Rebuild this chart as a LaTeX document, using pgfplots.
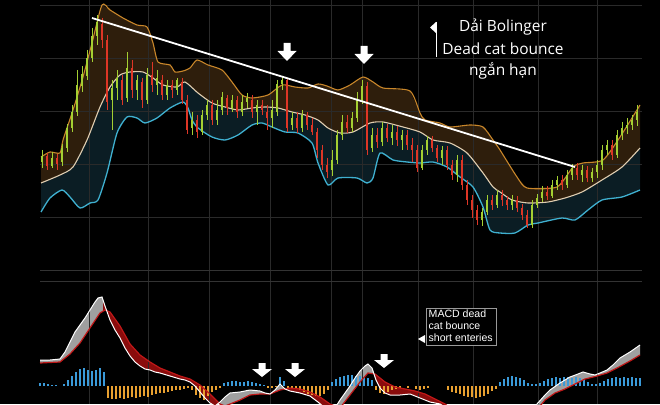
\documentclass[border=0pt]{standalone}
\usepackage{pgfplots}
\pgfplotsset{compat=1.18}
\usepackage{pgfplotstable}
\usepgfplotslibrary{fillbetween}
\usepackage{fontspec}
\setmainfont{Open Sans}
\newfontfamily\arialfont{Liberation Sans}
\definecolor{upband}{HTML}{C8862A}
\definecolor{midband}{HTML}{E0CDB0}
\definecolor{lowband}{HTML}{3FB0D0}
\definecolor{upfill}{HTML}{2E1E0C}
\definecolor{lowfill}{HTML}{0B1D24}
\definecolor{cgreen}{HTML}{A4CF32}
\definecolor{cred}{HTML}{DE3626}
\definecolor{hblue}{HTML}{3A9AD9}
\definecolor{horange}{HTML}{E8A030}
\definecolor{gridc}{HTML}{2A2A2A}
\definecolor{sigred}{HTML}{C01818}
\definecolor{fillred}{HTML}{8A0C0C}

\pgfplotstableread{
x y
41 157
50 152
60 153
63 140
73 110
83 77
92 43
102 5
110 10
123 18
137 25
147 27
153 43
158 62
170 65
175 72
183 71
190 68
197 60
208 65
222 70
232 82
242 95
252 98
268 95
282 85
295 87
308 88
318 84
327 86
338 90
350 85
363 77
373 82
383 88
410 91
420 113
425 120
440 123
450 127
470 125
483 127
493 140
500 150
517 177
527 188
557 187
573 167
583 163
603 160
620 137
640 105
}\bandup

\pgfplotstableread{
x y
41 183
60 175
73 167
87 140
100 107
110 87
120 75
130 72
143 72
153 78
163 85
177 87
185 82
198 93
212 103
225 107
238 110
252 108
265 107
278 108
292 112
305 115
318 120
328 128
340 133
353 132
370 123
383 122
403 127
420 132
433 140
450 143
467 153
483 173
493 187
500 192
512 200
528 203
548 202
565 198
582 192
602 180
622 167
640 148
}\bandmid

\pgfplotstableread{
x y
41 212
50 198
62 190
70 197
80 208
90 203
98 200
107 173
117 133
127 117
137 118
145 123
157 118
170 108
183 102
188 108
192 120
198 128
212 137
225 140
238 135
252 125
262 123
272 127
285 132
298 133
312 143
318 163
328 185
338 178
357 178
367 183
373 178
380 153
393 160
407 162
420 163
433 162
447 167
460 177
473 187
483 207
490 230
500 233
515 233
528 225
538 223
562 218
575 220
588 210
602 200
622 197
640 190
}\bandlow

\pgfplotstableread{
x o c h l
42 162 156 150 168
52 166 158 152 168
62 162 148 144 166
67 148 128 124 152
72 128 112 105 132
77 112 85 70 116
82 86 74 66 92
87 76 58 50 80
92 58 36 28 62
97 36 22 15 45
112 100 88 80 130
117 88 78 70 100
127 98 68 52 102
137 90 80 75 100
147 100 75 68 104
157 85 78 70 95
167 95 85 80 100
177 90 80 78 95
192 128 120 112 135
202 132 115 110 135
207 115 105 100 120
217 120 110 100 125
222 110 97 92 115
232 108 100 95 112
242 112 102 95 116
247 102 98 93 108
257 112 105 100 125
272 118 110 100 128
277 112 84 80 116
282 84 80 76 90
292 125 118 112 130
302 128 115 110 132
332 170 160 150 176
337 160 135 130 164
342 135 122 115 140
352 128 118 112 132
357 118 100 92 122
362 100 86 80 104
372 148 135 128 152
382 142 128 122 146
392 138 132 125 145
402 140 135 130 150
422 168 150 145 170
427 150 140 136 155
442 158 150 146 165
457 175 160 155 182
482 220 212 208 226
487 212 200 195 215
497 205 195 190 208
512 205 200 195 210
532 225 205 200 228
537 205 198 194 208
542 198 192 186 202
552 196 185 180 198
557 185 180 176 190
567 185 175 170 188
572 175 168 164 180
582 175 170 165 182
592 178 172 168 182
597 172 165 160 178
602 165 150 145 170
607 150 145 140 155
617 155 135 130 158
622 135 128 122 140
627 128 125 118 134
632 125 120 115 130
637 120 112 105 126
}\gtab

\pgfplotstableread{
x o c h l
47 156 166 153 170
57 158 164 154 170
102 24 40 18 48
107 40 102 35 110
122 80 100 75 105
132 68 90 60 98
142 82 100 78 108
152 75 85 62 92
162 80 95 75 100
172 85 90 80 98
182 82 100 78 104
187 100 130 95 134
197 120 132 115 138
212 105 120 100 125
227 98 108 95 115
237 100 112 96 118
252 100 112 95 118
262 105 110 100 115
267 112 118 105 130
287 80 128 78 132
297 118 128 112 133
307 115 125 112 130
312 125 132 118 135
317 132 150 128 158
322 150 165 145 170
327 165 172 158 178
347 122 128 115 133
367 86 150 82 155
377 135 142 128 148
387 128 138 124 142
397 132 140 126 146
407 135 145 130 150
412 145 150 138 162
417 150 168 145 172
432 140 148 136 152
437 148 158 145 162
447 150 165 146 170
452 165 175 160 180
462 160 185 155 190
467 185 200 180 205
472 200 210 195 218
477 210 220 205 225
492 200 205 195 210
502 195 200 190 206
507 200 205 196 210
517 200 208 196 212
522 208 215 204 220
527 215 225 210 228
547 192 196 186 200
562 180 185 175 190
577 168 175 163 180
587 170 178 166 182
612 145 155 140 160
}\rtab

\pgfplotstableread{
x v
40 383
44 383
48 384
52 385
56 385
64 384
68 380
72 376
76 372
80 369
84 368
88 370
92 371
96 370
100 368
104 372
224 383
228 382
232 381
236 381
240 382
244 382
248 381
252 382
256 383
260 384
264 385
280 377
284 381
332 382
336 379
340 377
344 376
348 375
352 375
356 376
360 376
364 377
368 378
372 380
500 382
504 379
508 377
512 376
516 377
520 378
524 380
528 383
532 384
536 384
540 383
544 381
548 379
552 378
556 377
560 378
564 377
568 377
572 378
576 377
580 378
584 380
588 382
592 384
596 384
600 383
604 381
608 379
612 378
616 377
620 378
624 377
628 378
632 377
636 378
640 378
}\histblue

\pgfplotstableread{
x v
108 398
112 399
116 399
120 398
124 399
128 398
132 397
136 398
140 397
144 396
148 397
152 395
156 394
160 393
164 393
168 392
172 391
176 390
180 390
184 389
188 388
192 390
196 395
200 398
204 400
208 396
212 392
216 390
220 388
268 388
272 388
276 387
288 388
292 388
296 389
300 390
304 392
308 394
312 395
316 396
320 396
324 394
328 390
376 390
380 393
384 394
388 392
392 390
396 389
400 388
408 388
416 389
420 390
424 389
428 388
448 390
452 392
456 393
460 394
464 396
468 397
472 397
476 398
480 397
484 396
488 394
492 391
496 389
}\historange

\pgfplotstableread{
x y
40 360
50 360
60 359
65 352
70 342
75 332
80 325
85 318
90 310
95 302
98 298
102 297
105 306
110 320
115 330
120 338
125 348
130 356
135 362
140 366
145 369
150 370
155 372
160 373
170 376
180 379
185 380
190 382
195 386
200 392
205 398
210 403
215 406
220 402
225 397
230 393
240 392
250 390
260 391
265 393
270 394
275 390
280 384
285 389
290 391
300 393
310 396
318 402
325 408
335 408
340 400
345 393
350 386
355 378
360 371
365 366
368 364
372 368
376 380
380 388
385 393
390 395
400 395
410 394
420 398
430 402
440 404
450 410
530 410
537 404
545 395
550 390
560 383
570 377
578 374
583 372
590 374
595 375
600 373
607 370
613 365
620 358
630 352
640 345
}\macdtab

\pgfplotstableread{
x y
40 363
60 362
70 354
80 343
90 328
100 313
105 310
110 312
120 326
130 344
140 355
150 362
160 368
170 372
180 376
190 379
200 385
210 394
220 404
225 406
240 400
250 395
260 394
270 394
280 390
290 388
300 389
310 392
320 397
330 404
340 408
350 395
360 382
368 373
375 374
385 382
395 387
405 389
415 391
425 394
435 399
445 404
455 412
535 412
545 400
555 393
565 389
575 384
585 379
597 376
607 373
617 368
630 361
640 355
}\sigtab

\begin{document}
\begin{tikzpicture}
\begin{axis}[
  width=660bp, height=404bp, scale only axis,
  xmin=0, xmax=660, ymin=0, ymax=404, y dir=reverse,
  axis background/.style={fill=black},
  axis line style={draw=none},
  xtick=\empty, ytick=\empty,
]
% grid
\pgfplotsinvokeforeach{89,148,209,270,331,362,418,473,538,597}{
  \draw[gridc, line width=0.7bp] (#1,0) -- (#1,404);
}
\pgfplotsinvokeforeach{5,58,111,164,217}{
  \draw[gridc, line width=0.7bp] (40,#1) -- (642,#1);
}
\draw[gray!40!black, line width=1bp] (40,270) -- (642,270);
\draw[gray!40!black, line width=1bp] (40,281) -- (642,281);

% Bollinger bands
\addplot[name path=up, draw=none, forget plot] table[x=x,y=y] {\bandup};
\addplot[name path=mid, draw=none, forget plot] table[x=x,y=y] {\bandmid};
\addplot[name path=low, draw=none, forget plot] table[x=x,y=y] {\bandlow};
\addplot[upfill, forget plot] fill between[of=up and mid];
\addplot[lowfill, forget plot] fill between[of=mid and low];
\addplot[upband, line width=1.1bp, smooth, tension=0.4] table[x=x,y=y] {\bandup};
\addplot[midband, line width=1.1bp, smooth, tension=0.4] table[x=x,y=y] {\bandmid};
\addplot[lowband, line width=1.3bp, smooth, tension=0.4] table[x=x,y=y] {\bandlow};

% candles: wicks (high to low)
\addplot[cgreen, line width=0.6bp, mark=none, forget plot, quiver={u=0, v={\thisrow{l}-\thisrow{h}}}]
  table[x=x, y=h] {\gtab};
\addplot[cred, line width=0.6bp, mark=none, forget plot, quiver={u=0, v={\thisrow{l}-\thisrow{h}}}]
  table[x=x, y=h] {\rtab};
% candles: bodies (open to close)
\addplot[cgreen, line width=2.2bp, mark=none, forget plot, quiver={u=0, v={\thisrow{c}-\thisrow{o}}}]
  table[x=x, y=o] {\gtab};
\addplot[cred, line width=2.2bp, mark=none, forget plot, quiver={u=0, v={\thisrow{c}-\thisrow{o}}}]
  table[x=x, y=o] {\rtab};

% trend line
\addplot[white, line width=1.8bp] coordinates {(92,18) (575,167)};

% MACD histogram (zero line at 386)
\addplot[hblue, line width=1.5bp, mark=none, forget plot, quiver={u=0, v={\thisrow{v}-386}}]
  table[x=x, y expr=386] {\histblue};
\addplot[horange, line width=1.5bp, mark=none, forget plot, quiver={u=0, v={\thisrow{v}-386}}]
  table[x=x, y expr=386] {\historange};

% MACD lines and fills
\addplot[name path=macd, draw=none, forget plot] table[x=x,y=y] {\macdtab};
\addplot[name path=sig, draw=none, forget plot] table[x=x,y=y] {\sigtab};
\addplot[gray!75, forget plot] fill between[of=macd and sig, soft clip={domain=40:103}];
\addplot[fillred, forget plot] fill between[of=macd and sig, soft clip={domain=103:218}];
\addplot[gray!75, forget plot] fill between[of=macd and sig, soft clip={domain=218:287}];
\addplot[fillred, forget plot] fill between[of=macd and sig, soft clip={domain=287:338}];
\addplot[gray!75, forget plot] fill between[of=macd and sig, soft clip={domain=338:373}];
\addplot[fillred, forget plot] fill between[of=macd and sig, soft clip={domain=373:460}];
\addplot[gray!75, forget plot] fill between[of=macd and sig, soft clip={domain=530:640}];
\addplot[sigred, line width=1.2bp] table[x=x,y=y] {\sigtab};
\addplot[white, line width=1bp] table[x=x,y=y] {\macdtab};

% arrows
\fill[white] (283.5,43) -- (290.5,43) -- (290.5,51) -- (296.5,51) -- (287,61) -- (277.5,51) -- (283.5,51) -- cycle;
\fill[white] (360.5,46) -- (367.5,46) -- (367.5,54) -- (373.5,54) -- (364,64) -- (354.5,54) -- (360.5,54) -- cycle;
\fill[white] (258.5,363) -- (265.5,363) -- (265.5,369) -- (272,369) -- (262,377) -- (252,369) -- (258.5,369) -- cycle;
\fill[white] (291.5,363) -- (298.5,363) -- (298.5,369) -- (305,369) -- (295,377) -- (285,369) -- (291.5,369) -- cycle;
\fill[white] (380.5,354) -- (387.5,354) -- (387.5,360) -- (394,360) -- (384,368) -- (374,360) -- (380.5,360) -- cycle;

% flag
\draw[white, line width=0.7bp] (436,22) -- (436,57);
\fill[white] (430,27.5) -- (436,22) -- (436,33) -- cycle;

% text
\node[white, font=\fontsize{15.5}{18}\selectfont] at (503,27) {Dải Bolinger};
\node[white, font=\fontsize{15.5}{18}\selectfont] at (503,49) {Dead cat bounce};
\node[white, font=\fontsize{15.5}{18}\selectfont] at (503,71) {ngắn hạn};

% MACD box
\draw[gray!80, fill=black, line width=0.7bp] (426,308) rectangle (496,345);
\fill[white] (418,339) -- (425,335) -- (425,343) -- cycle;
\node[white, anchor=north west, align=left, inner sep=0pt, font=\arialfont\fontsize{10.6}{11.8}\selectfont] at (428.5,310) {MACD dead\\cat bounce\\short enteries};
\end{axis}
\end{tikzpicture}
\end{document}
